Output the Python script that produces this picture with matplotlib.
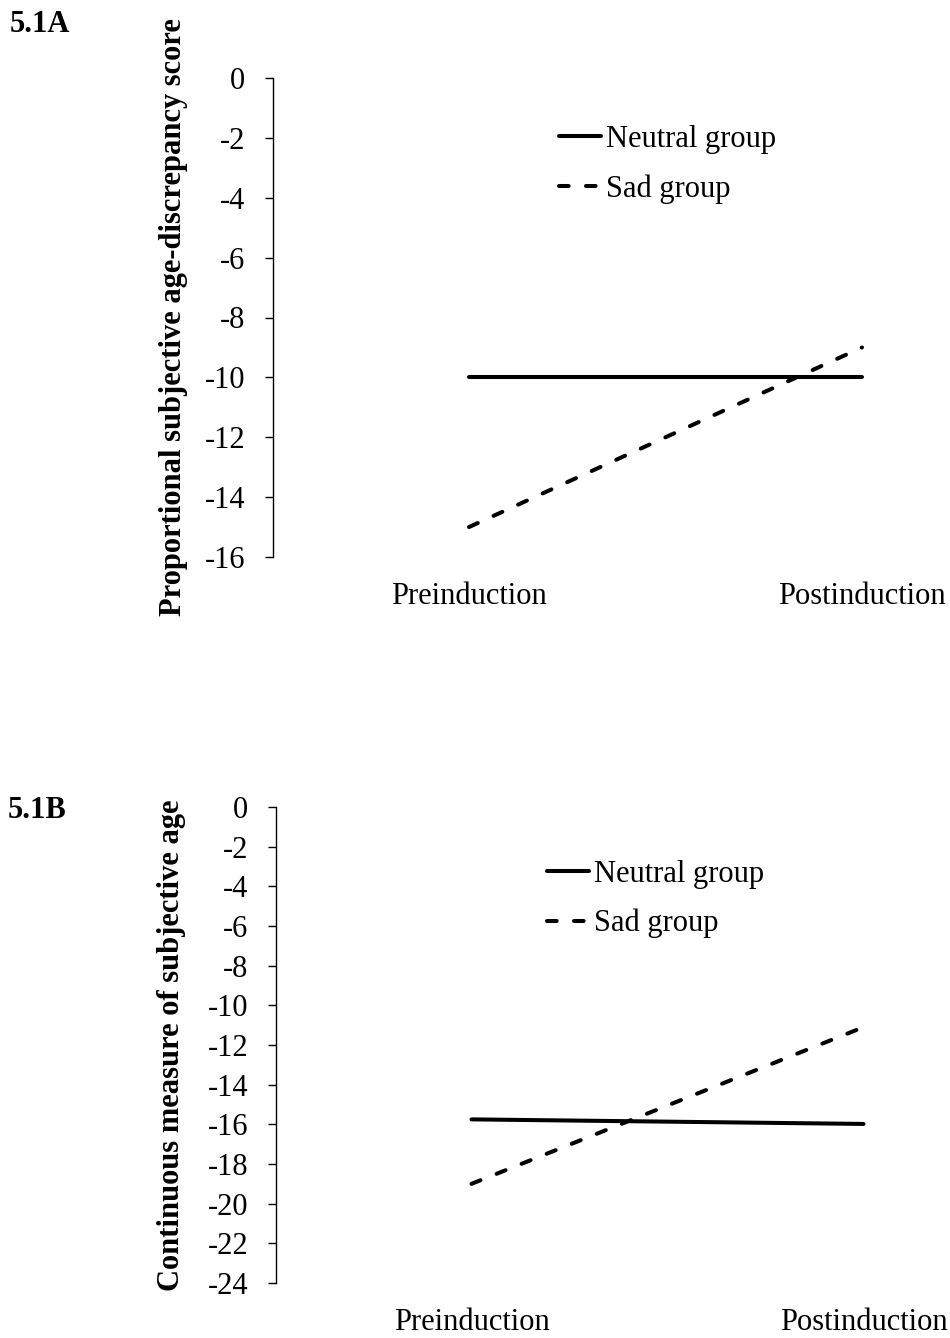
import matplotlib
matplotlib.use('Agg')
import matplotlib.pyplot as plt

plt.rcParams['font.family'] = ['Liberation Serif', 'DejaVu Serif']
plt.rcParams['font.size'] = 22
plt.rcParams['axes.unicode_minus'] = False

# categories and series
phases = ['Preinduction', 'Postinduction']
groups = ['Neutral group', 'Sad group']

# 5.1A proportional subjective age-discrepancy score
prop_neutral = [-10.0, -10.0]
prop_sad = [-15.0, -9.0]

# 5.1B continuous measure of subjective age
cont_neutral = [-15.75, -15.98]
cont_sad = [-19.0, -11.1]

W, H = 950, 1338


def px_box(left, top, width, height):
    # pixel box (from top-left) -> figure fraction
    return [left / W, 1 - (top + height) / H, width / W, height / H]


fig = plt.figure(figsize=(W / 100, H / 100), dpi=100)


def draw_panel(ax, neutral, sad, ymin, ylabel, label_x, legend_xy):
    x = list(range(len(phases)))
    ax.plot(x, neutral, color='black', lw=2.9, solid_capstyle='round', label=groups[0])
    ax.plot(x, sad, color='black', lw=2.9, dashes=(2.4, 4.3), dash_capstyle='round', label=groups[1])

    ax.set_xlim(-0.5, 1.5)
    ax.set_ylim(ymin, 0)
    ax.set_yticks(range(ymin, 1, 2))
    ax.set_xticks(x)
    ax.set_xticklabels(phases)
    ax.tick_params(axis='x', length=0, pad=18)
    ax.tick_params(axis='y', direction='out', length=5.8, width=1.0, pad=13.7)
    for s in ['top', 'right', 'bottom']:
        ax.spines[s].set_visible(False)
    ax.spines['left'].set_linewidth(1.0)

    ax.set_ylabel(ylabel, fontweight='bold')
    ax.yaxis.set_label_coords(label_x, 0.5)

    ax.legend(loc='center left', bbox_to_anchor=(legend_xy[0] / W, 1 - legend_xy[1] / H),
              bbox_transform=fig.transFigure, frameon=False, borderpad=0, borderaxespad=0,
              handlelength=1.37, handletextpad=0.16, labelspacing=0.66)


ax1 = fig.add_axes(px_box(272.5, 78, 786, 479))
draw_panel(ax1, prop_neutral, prop_sad, -16,
           'Proportional subjective age-discrepancy score', -0.1075, (559, 164.5))

ax2 = fig.add_axes(px_box(275.5, 807, 784, 476))
draw_panel(ax2, cont_neutral, cont_sad, -24,
           'Continuous measure of subjective age', -0.114, (547, 899))

fig.text(10 / W, 1 - 25 / H, '5.1A', fontweight='bold', ha='left', va='center')
fig.text(8 / W, 1 - 811 / H, '5.1B', fontweight='bold', ha='left', va='center')

fig.savefig('out.png', dpi=100)
